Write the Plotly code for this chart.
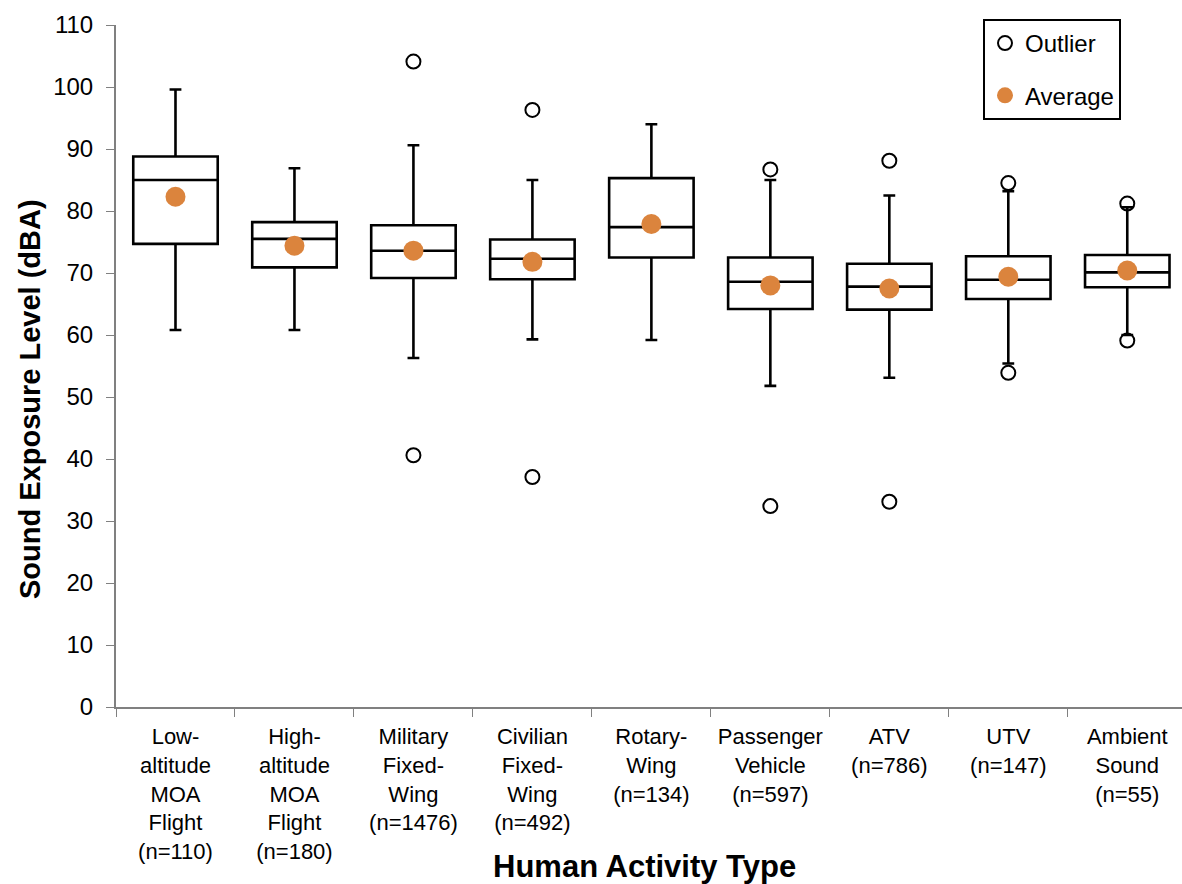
import plotly.graph_objects as go

# Human activity categories (multi-line tick labels)
categories = [
    "Low-<br>altitude<br>MOA<br>Flight<br>(n=110)",
    "High-<br>altitude<br>MOA<br>Flight<br>(n=180)",
    "Military<br>Fixed-<br>Wing<br>(n=1476)",
    "Civilian<br>Fixed-<br>Wing<br>(n=492)",
    "Rotary-<br>Wing<br>(n=134)",
    "Passenger<br>Vehicle<br>(n=597)",
    "ATV<br>(n=786)",
    "UTV<br>(n=147)",
    "Ambient<br>Sound<br>(n=55)",
]

# Box statistics (dBA)
lower_whisker = [60.8, 60.8, 56.3, 59.3, 59.2, 51.8, 53.1, 55.4, 60.0]
q1 = [74.7, 70.9, 69.2, 69.0, 72.5, 64.2, 64.1, 65.8, 67.7]
median = [85.0, 75.5, 73.6, 72.3, 77.4, 68.6, 67.8, 68.9, 70.1]
q3 = [88.8, 78.2, 77.7, 75.4, 85.3, 72.5, 71.5, 72.7, 72.9]
upper_whisker = [99.6, 86.9, 90.6, 85.0, 94.0, 85.0, 82.5, 83.2, 80.6]
average = [82.3, 74.4, 73.6, 71.8, 77.9, 68.0, 67.5, 69.4, 70.4]

# Outliers: (category index, value)
outlier_cat = [2, 2, 3, 3, 5, 5, 6, 6, 7, 7, 8, 8]
outlier_val = [104.1, 40.6, 96.3, 37.1, 86.7, 32.4, 88.1, 33.1, 84.5, 53.9, 81.2, 59.1]

y_ticks = list(range(0, 111, 10))

FONT = "Liberation Sans, Arial, sans-serif"
ORANGE = "#DB843D"

# plot area geometry in pixels
W, H = 1182, 884
ML, MT, MB = 116, 25, 177
PW, PH = W - ML, H - MT - MB

fig = go.Figure()

fig.add_trace(go.Box(
    x=categories,
    q1=q1, median=median, q3=q3,
    lowerfence=lower_whisker, upperfence=upper_whisker,
    boxpoints=False,
    fillcolor="white",
    line=dict(color="black", width=2.6),
    width=0.71,
    whiskerwidth=0.14,
    showlegend=False,
    hoverinfo="skip",
))

fig.add_trace(go.Scatter(
    x=[categories[i] for i in outlier_cat],
    y=outlier_val,
    mode="markers",
    name="Outlier",
    legendgroup="out",
    marker=dict(symbol="circle-open", size=14, color="black",
                line=dict(width=2, color="black")),
))

fig.add_trace(go.Scatter(
    x=categories,
    y=average,
    mode="markers",
    name="Average",
    legendgroup="avg",
    marker=dict(symbol="circle", size=20, color=ORANGE),
))

fig.update_layout(
    width=W, height=H,
    margin=dict(l=ML, r=0, t=MT, b=MB),
    paper_bgcolor="white", plot_bgcolor="white",
    font=dict(family=FONT, color="black"),
    showlegend=True,
    legend=dict(
        x=(983 - ML) / PW, y=(H - MB - 19) / PH, xanchor="left", yanchor="top",
        bordercolor="black", borderwidth=2,
        font=dict(size=24, family=FONT, color="black"),
        tracegroupgap=18,
        traceorder="grouped",
        itemsizing="trace",
        entrywidth=132, entrywidthmode="pixels",
    ),
    xaxis=dict(
        type="category",
        range=[-0.5, 8.46],
        showgrid=False,
        showline=True, linecolor="#808080", linewidth=2,
        ticks="outside", ticklen=8, tickcolor="#808080", tickwidth=1,
        tickson="boundaries",
        tickfont=dict(size=22, family=FONT, color="black"),
        tickangle=0,
        ticklabelstandoff=9,
    ),
    yaxis=dict(
        range=[0, 110],
        tickvals=y_ticks,
        showgrid=False, zeroline=False,
        showline=True, linecolor="#808080", linewidth=2,
        ticks="outside", ticklen=8, tickcolor="#808080", tickwidth=1,
        tickfont=dict(size=24, family=FONT, color="black"),
        ticklabelstandoff=8,
    ),
    annotations=[
        dict(text="<b>Sound Exposure Level (dBA)</b>",
             x=(30 - ML) / PW, y=(H - MB - 399) / PH,
             xanchor="center", yanchor="middle",
             xref="paper", yref="paper", showarrow=False, textangle=-90,
             font=dict(size=29, family=FONT, color="black")),
        dict(text="<b>Human Activity Type</b>",
             x=(644 - ML) / PW, y=-(866 - (H - MB)) / PH,
             xanchor="center", yanchor="middle",
             xref="paper", yref="paper", showarrow=False,
             font=dict(size=31, family=FONT, color="black")),
    ],
)

fig.write_html("out.html")
